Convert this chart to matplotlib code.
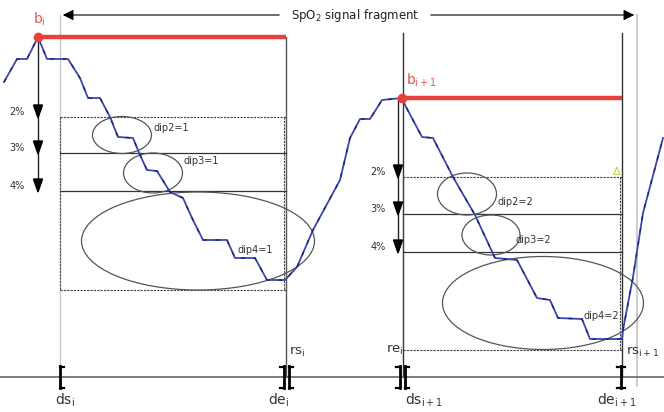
import matplotlib
matplotlib.use("Agg")
import matplotlib.pyplot as plt
from matplotlib.patches import Ellipse, Polygon

plt.rcParams['font.family'] = ['DejaVu Sans']
plt.rcParams['mathtext.fontset'] = 'dejavusans'

# ---- data (diagram pixel space) ----
signal_x = [4, 17, 27, 38, 47, 68, 80, 88, 100, 110, 118, 133, 140, 147, 157, 170, 183, 192, 203,
            227, 235, 255, 267, 285, 297, 313, 340, 350, 360, 370, 382, 402, 405, 422, 433, 453,
            475, 495, 517, 537, 550, 558, 582, 590, 622, 623, 633, 643, 663]
signal_y = [82, 59, 59, 37, 59, 59, 78, 98, 98, 117, 137, 138, 155, 170, 171, 192, 198, 218, 240,
            240, 258, 258, 280, 280, 267, 230, 180, 138, 119, 119, 100, 98, 105, 137, 138, 177,
            215, 258, 260, 298, 300, 318, 319, 339, 339, 330, 277, 213, 138]

baseline_x = [38, 402]
baseline_y = [37, 98]
baseline_end = [286, 622]
base_labels = ['b$_\\mathregular{i}$', 'b$_\\mathregular{i+1}$']

level_names = ['2%', '3%', '4%']
levels_1 = [117, 153, 191]
levels_2 = [177, 214, 252]
box_1 = (60, 286, 290)   # left, right, bottom
box_2 = (403, 622, 350)

ellipses = [  # cx, cy, w, h
    (122, 135, 59, 37), (153, 173, 59, 40), (198, 241, 233, 98),
    (467, 194, 59, 42), (491, 235, 58, 40), (543, 303, 201, 93),
]
dip_labels = ['dip2=1', 'dip3=1', 'dip4=1', 'dip2=2', 'dip3=2', 'dip4=2']
dip_label_pos = [(153, 128), (184, 161), (237, 250), (498, 202), (515, 240), (583, 316)]

axis_y = 377
bound_x = [60, 286, 403, 622]
bound_labels = ['ds$_\\mathregular{i}$', 'de$_\\mathregular{i}$', 'ds$_\\mathregular{i+1}$', 'de$_\\mathregular{i+1}$']
bound_label_x = [55, 268, 405, 597]

# ---- figure ----
fig = plt.figure(figsize=(6.64, 4.12), dpi=100)
ax = fig.add_axes([0, 0, 1, 1])
ax.set_xlim(0, 664)
ax.set_ylim(412, 0)
ax.axis('off')

# light vertical guide lines
ax.plot([60, 60], [15, 368], color='#c8c8c8', lw=1.0, zorder=1)
ax.plot([637, 637], [15, 386], color='#c8c8c8', lw=1.3, zorder=1)
# dark vertical lines
ax.plot([286, 286], [37, 377], color='#555555', lw=1.0, zorder=1)
ax.plot([403, 403], [33, 377], color='#333333', lw=1.0, zorder=1)
ax.plot([622, 622], [33, 377], color='#333333', lw=1.0, zorder=1)

# bottom axis
ax.plot([0, 664], [axis_y, axis_y], color='#666666', lw=1.2, zorder=1)

# top double arrow + title
ax.annotate('', xy=(60, 15), xytext=(282, 15),
            arrowprops=dict(arrowstyle='-|>', color='black', lw=0.8, mutation_scale=16))
ax.annotate('', xy=(637, 15), xytext=(428, 15),
            arrowprops=dict(arrowstyle='-|>', color='black', lw=0.8, mutation_scale=16))
ax.text(355, 15, 'SpO$_\\mathregular{2}$ signal fragment', ha='center', va='center',
        fontsize=8.5, color='#222222')

# boxes with dip levels
for (left, right, bottom), lv, ax_x in [(box_1, levels_1, 38), (box_2, levels_2, 398)]:
    ax.plot([left, right], [lv[0], lv[0]], color='#444444', lw=0.8, ls=(0, (2, 1)), zorder=2)
    ax.plot([left, right], [bottom, bottom], color='#444444', lw=0.8, ls=(0, (2, 1)), zorder=2)
    ax.plot([left, left], [lv[0], bottom], color='#444444', lw=0.8, ls=(0, (2, 1)), zorder=2)
    ax.plot([right - 2, right - 2], [lv[0], bottom], color='#444444', lw=0.8, ls=(0, (2, 1)), zorder=2)
    for y in lv[1:]:
        ax.plot([left, right], [y, y], color='#333333', lw=0.9, zorder=2)

# percent arrows
for bx, by, lv, lab_x in [(38, 37, levels_1, 17), (398, 98, levels_2, 378)]:
    ax.plot([bx, bx], [by, lv[-1] - 2], color='#222222', lw=1.0, zorder=3)
    for name, y in zip(level_names, lv):
        tri = Polygon([[bx - 4.5, y - 12], [bx + 4.5, y - 12], [bx, y + 1]], closed=True,
                      color='black', zorder=4)
        ax.add_patch(tri)
        ax.text(lab_x, y - 5, name, ha='center', va='center', fontsize=7, color='#333333')

# ellipses
for (cx, cy, w, h) in ellipses:
    ax.add_patch(Ellipse((cx, cy), w, h, fill=False, edgecolor='#555555', lw=0.9, zorder=3))
for lab, (x, y) in zip(dip_labels, dip_label_pos):
    ax.text(x, y, lab, ha='left', va='center', fontsize=7, color='#333333', zorder=5)

# signal
ax.plot(signal_x, signal_y, color='#3a47b0', lw=1.3, zorder=5)
ax.plot(signal_x, signal_y, color='#1c2470', lw=1.0, ls=(0, (3, 6)), zorder=6)

# baselines
for bx, by, be, lab in zip(baseline_x, baseline_y, baseline_end, base_labels):
    ax.plot([bx, be], [by, by], color='#e8403a', lw=3.2, zorder=7, solid_capstyle='butt')
    ax.plot([bx], [by], 'o', color='#e8403a', ms=6, zorder=8)
ax.text(33, 19, base_labels[0], color='#e05a55', fontsize=10, ha='left', va='center')
ax.text(406, 80, base_labels[1], color='#e05a55', fontsize=10, ha='left', va='center')

# small yellow-green mark
ax.text(617, 172, '\u0394', color='#b8d040', fontsize=8, ha='center', va='center')

# brackets on axis
def vbar(x, serif_dir):
    ax.plot([x, x], [366, 388], color='black', lw=2.0, zorder=4)
    for s in serif_dir:
        ax.plot([x, x + 4 * s], [366.5, 366.5], color='black', lw=1.6, zorder=4)
        ax.plot([x, x + 4 * s], [387.5, 387.5], color='black', lw=1.6, zorder=4)

vbar(bound_x[0], [1])
vbar(bound_x[1] - 2, [-1])
vbar(bound_x[1] + 3, [1])
vbar(bound_x[2] - 3, [-1])
vbar(bound_x[2] + 2, [1])
vbar(bound_x[3] - 1, [1, -1])

for lab, x in zip(bound_labels, bound_label_x):
    ax.text(x, 400, lab, ha='left', va='center', fontsize=10, color='#333333')

ax.text(289, 352, 'rs$_\\mathregular{i}$', ha='left', va='center', fontsize=9.5, color='#333333')
ax.text(386, 350, 're$_\\mathregular{i}$', ha='left', va='center', fontsize=9.5, color='#333333')
ax.text(626, 352, 'rs$_\\mathregular{i+1}$', ha='left', va='center', fontsize=9.5, color='#333333')

fig.savefig('out.png', dpi=100, facecolor='white')
